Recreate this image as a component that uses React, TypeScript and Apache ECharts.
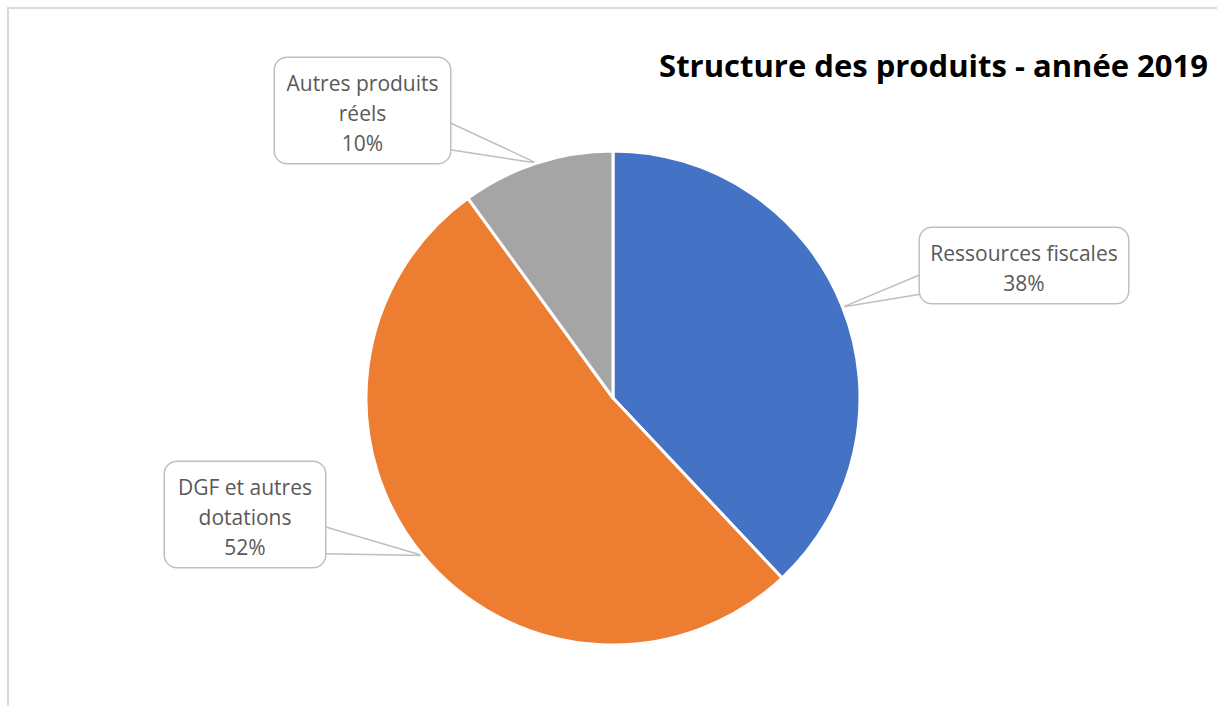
import React, { useEffect, useRef } from "react";
import * as echarts from "echarts";

const categories = ["Ressources fiscales", "DGF et autres dotations", "Autres produits réels"];
const labelTexts = ["Ressources fiscales", "DGF et autres\ndotations", "Autres produits\nréels"];
const values = [38, 52, 10];
const colors = ["#4472C4", "#ED7D31", "#A5A5A5"];
const titleText = "Structure des produits - année 2019";

// callout box placement (left, top, width) and which side of the box the pointer leaves from
const labelBoxes = [
  { x: 920, y: 228, w: 208, side: "left" },
  { x: 165, y: 462, w: 160, side: "right" },
  { x: 275, y: 58, w: 175, side: "right" },
];

const CENTER = [613, 398];
const RADIUS = 247;

export default function App() {
  const ref = useRef<HTMLDivElement>(null);
  useEffect(() => {
    if (!ref.current) return;
    const chart = echarts.init(ref.current, null, { renderer: "svg" });
    const total = values.reduce((a, b) => a + b, 0);
    const anchors: number[][] = [];
    let cum = 0;
    values.forEach((v) => {
      const mid = (cum + v / 2) / total;
      cum += v;
      const ang = mid * Math.PI * 2;
      anchors.push([CENTER[0] + RADIUS * Math.sin(ang), CENTER[1] - RADIUS * Math.cos(ang)]);
    });
    chart.setOption({
      animation: false,
      backgroundColor: "#ffffff",
      title: {
        text: titleText,
        right: 4,
        top: 44,
        textStyle: { fontFamily: "Open Sans", fontWeight: "bold", fontSize: 31, color: "#000000" },
      },
      graphic: [
        { type: "line", shape: { x1: 7, y1: 8, x2: 1217, y2: 8 }, style: { stroke: "#d9d9d9", lineWidth: 2 } },
        { type: "line", shape: { x1: 8, y1: 7, x2: 8, y2: 706 }, style: { stroke: "#d9d9d9", lineWidth: 2 } },
      ],
      series: [
        {
          type: "pie",
          center: CENTER,
          radius: RADIUS,
          startAngle: 90,
          clockwise: true,
          data: categories.map((name, i) => ({ name, value: values[i], itemStyle: { color: colors[i] } })),
          itemStyle: { borderColor: "#ffffff", borderWidth: 3 },
          label: {
            show: true,
            position: "outside",
            formatter: (p: any) => labelTexts[p.dataIndex] + "\n" + Math.round(p.percent) + "%",
            fontFamily: "Open Sans",
            fontSize: 21,
            color: "#595959",
            lineHeight: 30,
            align: "center",
            backgroundColor: "#ffffff",
            borderColor: "#bfbfbf",
            borderWidth: 1.5,
            borderRadius: 12,
            padding: [10, 0, 5, 0],
          },
          labelLine: { show: true, lineStyle: { color: "#bfbfbf", width: 1.5 } },
          labelLayout: (params: any) => {
            const i = params.dataIndex;
            const b = labelBoxes[i];
            const h = params.labelRect.height;
            const ex = b.side === "left" ? b.x : b.x + b.w;
            return {
              x: b.x + b.w / 2,
              y: b.y,
              align: "center",
              verticalAlign: "top",
              width: b.w,
              labelLinePoints: [[ex, b.y + 0.6 * h], anchors[i], [ex, b.y + 0.85 * h]],
            };
          },
        },
      ],
    });
    return () => chart.dispose();
  }, []);
  return (
    <div
      ref={ref}
      style={{ position: "fixed", left: 0, top: 0, width: 1217, height: 706, background: "#fff" }}
    />
  );
}
